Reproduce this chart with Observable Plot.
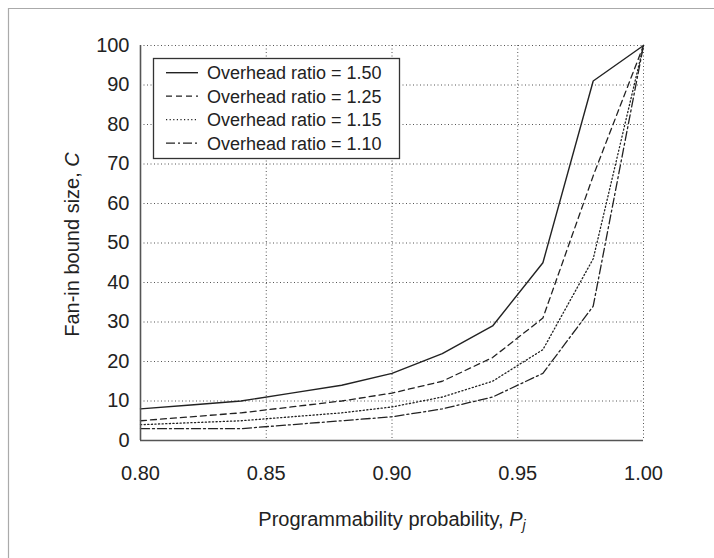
<!DOCTYPE html>
<html><head><meta charset="utf-8">
<script src="https://cdn.jsdelivr.net/npm/d3@7"></script>
<script src="https://cdn.jsdelivr.net/npm/@observablehq/plot@0.6"></script>
<style>body{margin:0;background:#fff} svg{display:block}</style>
</head><body><div id="chart"></div>
<script>
// Data
const probability = [0.80, 0.82, 0.84, 0.86, 0.88, 0.90, 0.92, 0.94, 0.96, 0.98, 1.00];
const ratio150 = [8, 9, 10, 12, 14, 17, 22, 29, 45, 91, 100];
const ratio125 = [5, 6, 7, 8.5, 10, 12, 15, 21, 31, 67, 100];
const ratio115 = [4, 4.5, 5, 6, 7, 8.5, 11, 15, 23, 46, 100];
const ratio110 = [3, 3, 3, 4, 5, 6, 8, 11, 17, 34, 100];
const seriesNames = ["Overhead ratio = 1.50", "Overhead ratio = 1.25", "Overhead ratio = 1.15", "Overhead ratio = 1.10"];
const seriesValues = [ratio150, ratio125, ratio115, ratio110];
const xTicks = [0.80, 0.85, 0.90, 0.95, 1.00];
const yTicks = [0, 10, 20, 30, 40, 50, 60, 70, 80, 90, 100];
const xTitle = "Programmability probability, ";
const yTitle = "Fan-in bound size, ";

// styles
const dashes = [null, "6,4", "1.2,2.4", "9,3,2,3"];
const widths = [1.4, 1.3, 1.3, 1.3];
const ink = "#222";

const tables = seriesValues.map((vals, i) => probability.map((p, j) => ({p, v: vals[j], s: seriesNames[i]})));

const gridStyle = {stroke: "#555", strokeOpacity: 1, strokeWidth: 1, strokeDasharray: "1,2.5"};

const plot = Plot.plot({
  width: 714,
  height: 558,
  marginLeft: 140,
  marginRight: 71,
  marginTop: 45,
  marginBottom: 118,
  style: {fontFamily: "'Liberation Sans', Arial, Helvetica, sans-serif", fontSize: "20px", color: ink, background: "#fff"},
  x: {domain: [0.8, 1.0]},
  y: {domain: [0, 100]},
  marks: [
    Plot.gridY(yTicks.slice(1), gridStyle),
    Plot.gridX(xTicks.slice(1), gridStyle),
    Plot.axisY(yTicks, {tickSize: 0, tickPadding: 11, tickFormat: d => String(d), label: null, fontSize: 20}),
    Plot.axisX(xTicks, {tickSize: 0, tickPadding: 25, tickFormat: d3.format(".2f"), label: null, fontSize: 20}),
    ...tables.map((t, i) => Plot.line(t, {x: "p", y: "v", stroke: ink, strokeWidth: widths[i], strokeDasharray: dashes[i] ?? undefined})),
    Plot.ruleX([0.8], {stroke: "#555", strokeWidth: 1.6}),
    Plot.ruleY([0], {stroke: "#555", strokeWidth: 1.6}),
    Plot.text([xTitle], {text: d => d, frameAnchor: "bottom", dy: 85, fontSize: 20, fill: ink}),
    Plot.text([yTitle], {text: d => d, frameAnchor: "left", fontSize: 20, fill: ink})
  ]
});

const svg = d3.select(plot);
const findText = s => svg.selectAll("text").filter(function() { return this.textContent === s; });
// Italic symbols in axis titles
const xt = findText(xTitle);
xt.text(null);
xt.append("tspan").text(xTitle);
xt.append("tspan").attr("font-style", "italic").text("P");
xt.append("tspan").attr("font-style", "italic").attr("font-size", "14px").attr("dy", "0.35em").text("j");
const yt = findText(yTitle);
yt.text(null).attr("x", null).attr("y", null).attr("dx", null).attr("dy", "0.32em")
  .attr("text-anchor", "middle").attr("transform", "translate(72,244) rotate(-90)");
yt.append("tspan").text(yTitle);
yt.append("tspan").attr("font-style", "italic").text("C");

// Outer frame (top & left)
svg.append("line").attr("x1", 8).attr("x2", 714).attr("y1", 8.5).attr("y2", 8.5).attr("stroke", "#aaa").attr("stroke-width", 1.2);
svg.append("line").attr("x1", 8.5).attr("x2", 8.5).attr("y1", 8).attr("y2", 558).attr("stroke", "#aaa").attr("stroke-width", 1.2);

// Legend
const lg = svg.append("g").attr("text-anchor", "start");
lg.append("rect").attr("x", 153.5).attr("y", 58.5).attr("width", 246).attr("height", 100)
  .attr("fill", "#fff").attr("stroke", "#333").attr("stroke-width", 1.3);
seriesNames.forEach((name, i) => {
  const y = 72.7 + i * 23.5;
  lg.append("line").attr("x1", 166).attr("x2", 198).attr("y1", y).attr("y2", y)
    .attr("stroke", ink).attr("stroke-width", widths[i]).attr("stroke-dasharray", dashes[i]);
  lg.append("text").attr("x", 207).attr("y", y).attr("dy", "0.35em").attr("text-anchor", "start")
    .attr("font-size", "18px").attr("fill", ink).text(name);
});

document.getElementById("chart").appendChild(plot);
</script>
</body></html>
